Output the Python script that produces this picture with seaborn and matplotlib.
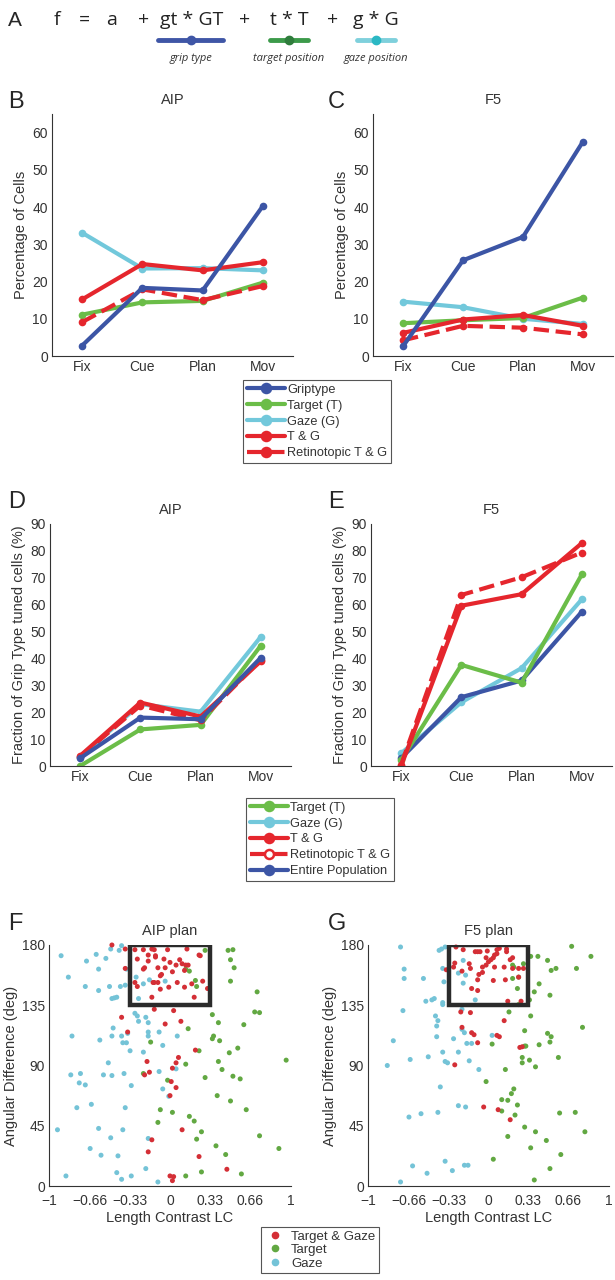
import numpy as np
import pandas as pd
import seaborn as sns
import matplotlib.pyplot as plt
from matplotlib.lines import Line2D
from matplotlib.patches import Rectangle

W, H = 615, 1280

# ---------------- data ----------------
epochs = ['Fix', 'Cue', 'Plan', 'Mov']

# B: AIP, percentage of cells
aip_grip = [2.8, 18.3, 17.6, 40.3]
aip_target = [11.1, 14.4, 14.8, 19.7]
aip_gaze = [33.1, 23.5, 23.6, 23.0]
aip_tg = [15.2, 24.7, 23.0, 25.2]
aip_retino = [9.1, 17.9, 15.0, 18.8]

# C: F5, percentage of cells
f5_grip = [2.6, 25.7, 32.0, 57.6]
f5_target = [8.8, 9.6, 10.2, 15.7]
f5_gaze = [14.6, 13.1, 10.0, 8.6]
f5_tg = [6.2, 9.8, 11.0, 8.1]
f5_retino = [4.2, 8.1, 7.6, 5.8]

# D: AIP, fraction of grip type tuned cells
aip_frac_target = [0.0, 13.6, 15.3, 44.8]
aip_frac_gaze = [3.4, 23.0, 20.2, 48.1]
aip_frac_tg = [3.8, 23.6, 18.4, 39.0]
aip_frac_retino = [3.5, 22.5, 17.0, 39.5]
aip_frac_all = [2.9, 18.0, 17.4, 40.3]

# E: F5, fraction of grip type tuned cells
f5_frac_target = [2.2, 37.6, 31.0, 71.3]
f5_frac_gaze = [4.7, 23.7, 36.4, 62.0]
f5_frac_tg = [0.0, 59.6, 63.9, 82.9]
f5_frac_retino = [0.5, 63.6, 70.2, 79.4]
f5_frac_all = [2.9, 25.6, 31.8, 57.4]

# F: AIP plan scatter (length contrast, angular difference)
aip_gaze_lc = [-0.90, -0.61, -0.69, -0.53, -0.49, -0.42, -0.40, -0.59, -0.84, -0.70, -0.59, -0.50,
               -0.41, -0.37, -0.36, -0.28, -0.17, -0.22, -0.04, -0.48, -0.46, -0.44, -0.26, -0.29,
               -0.27, -0.20, -0.26, -0.18, -0.47, -0.48, -0.40, -0.35, -0.39, -0.36, -0.81, -0.58,
               -0.18, -0.18, -0.09, 0.06, -0.06, -0.33, -0.22, -0.51, -0.82, -0.74, -0.55, -0.48,
               -0.38, -0.75, -0.70, -0.32, -0.09, 0.05, -0.06, -0.01, -0.65, -0.77, -0.37, -0.93,
               -0.59, -0.39, -0.49, -0.18, -0.66, -0.57, -0.43, -0.20, -0.44, -0.86, -0.32, -0.40,
               -0.10]
aip_gaze_ang = [172, 173, 168, 170, 177, 176, 179.5, 162, 156, 149, 146, 149,
                149, 150, 162, 156, 154, 151, 153, 140, 140.5, 141, 140, 129,
                127, 126, 123, 122, 118, 112, 112, 114, 107, 107, 112, 109,
                115, 112, 115, 112, 105, 101, 100, 92, 83, 84, 83, 82.5,
                84, 77, 75.5, 75, 85.5, 87.5, 72.5, 67, 61, 58.5, 58.5, 42,
                43, 42, 36, 35.5, 28, 23, 22.5, 13, 10, 7.5, 7.5, 5,
                3]
aip_target_lc = [0.29, 0.48, 0.52, 0.50, 0.53, 0.13, 0.16, 0.21, 0.50, 0.22, 0.72, 0.35,
                 0.70, 0.74, 0.40, 0.61, 0.15, 0.36, 0.35, 0.41, -0.16, 0.24, 0.49, 0.56,
                 0.40, 0.96, 0.13, 0.43, 0.52, 0.58, 0.29, -0.22, -0.02, 0.39, 0.50, -0.08,
                 0.02, 0.63, 0.16, 0.20, -0.10, 0.26, 0.22, 0.74, 0.38, 0.90, 0.46, 0.26,
                 0.59, 0.13]
aip_target_ang = [176, 176, 176.5, 169, 163, 162, 160.5, 153.5, 153, 149, 145, 128,
                  130, 129.5, 122, 120.5, 117.5, 112, 110, 108.5, 107.5, 101, 99.5, 103,
                  93, 94, 91, 87, 82, 80, 81, 84, 79, 67.5, 63.5, 57,
                  55, 57, 52, 48.5, 47.5, 40.5, 35, 37.5, 30, 28, 23.5, 10.5,
                  9, 7.5]
aip_tg_lc = [-0.48, -0.37, -0.29, -0.22, -0.15, -0.13, -0.02, 0.14, -0.18, -0.12, -0.12, 0.24,
             0.25, -0.37, -0.27, -0.18, -0.05, 0.00, 0.08, 0.10, 0.05, 0.13, 0.15, -0.21,
             -0.22, -0.10, -0.04, 0.02, 0.12, -0.08, -0.07, -0.14, -0.13, -0.10, -0.29, -0.27,
             0.06, 0.18, 0.27, 0.31, -0.08, -0.01, 0.12, 0.20, -0.15, -0.13, -0.40, 0.03,
             -0.04, 0.09, -0.35, 0.21, 0.07, 0.05, -0.19, -0.17, -0.21, 0.02, 0.01, 0.05,
             0.00, 0.10, -0.15, -0.18, 0.24, 0.47, 0.00, 0.03, 0.02]
aip_tg_ang = [180, 177, 176.5, 176.5, 177, 176.5, 176.5, 177, 172.5, 171, 172, 172.5,
              172, 162.5, 169.5, 168, 169.5, 167, 169, 166, 165, 165, 165, 163,
              162, 163, 163, 160, 161, 157, 158, 152, 152, 152, 152, 149,
              152, 151, 153, 147.5, 147, 148.5, 148.5, 141, 141, 132, 126, 131,
              121, 123, 115, 101.5, 96, 92, 93, 85, 83, 88, 78, 73.5,
              67.5, 42, 34.5, 25.5, 22, 12.5, 7.5, 7, 4]

# G: F5 plan scatter
f5_gaze_lc = [-0.73, -0.41, -0.39, -0.36, -0.70, -0.70, -0.54, -0.38, -0.37, -0.21, -0.25, -0.21,
              -0.19, -0.71, -0.52, -0.47, -0.45, -0.38, -0.38, -0.22, -0.11, -0.44, -0.42, -0.43,
              -0.22, -0.20, -0.18, -0.14, -0.43, -0.29, 0.03, -0.79, -0.84, -0.65, -0.50, -0.38,
              -0.36, -0.34, -0.25, -0.16, -0.08, -0.40, -0.66, -0.56, -0.42, -0.25, -0.19, -0.63,
              -0.51, -0.36, -0.30, -0.20, -0.17, -0.73]
f5_gaze_ang = [178.5, 176, 177, 178.5, 162, 155, 155, 162.5, 152.5, 168.5, 159, 151.5,
               157.5, 131, 138, 139, 140, 135.5, 137, 132, 139, 127, 123.5, 119.5,
               117, 114.5, 106.5, 106.5, 111.5, 110, 112.5, 108.5, 90, 94.5, 96.5, 100,
               93, 92, 100, 93.5, 87, 74, 51.5, 54, 55, 60, 59, 15,
               9.5, 18.5, 11.5, 15.5, 15.5, 3]
f5_target_lc = [0.69, 0.85, 0.35, 0.41, 0.49, 0.56, 0.52, 0.73, 0.20, 0.29, 0.21, 0.25,
                0.20, 0.42, 0.24, 0.38, 0.51, 0.34, 0.25, 0.17, 0.35, 0.78, 0.30, 0.49,
                0.52, 0.03, 0.42, 0.51, 0.30, 0.31, 0.28, 0.28, 0.34, 0.39, 0.58, 0.14,
                -0.02, 0.21, 0.19, 0.11, 0.16, 0.24, 0.11, 0.22, 0.59, 0.72, 0.30, 0.39,
                0.80, 0.16, 0.48, 0.35, 0.60, 0.04, 0.51, 0.38]
f5_target_ang = [179, 171.5, 171.5, 171.5, 168.5, 162.5, 161, 162.5, 165, 166, 163.5, 156,
                 155, 151, 147.5, 145, 142.5, 139, 135.5, 130, 127, 118.5, 116, 114,
                 111.5, 106, 105.5, 107.5, 104.5, 104.5, 96, 92, 94, 89, 96, 87,
                 78, 72.5, 69, 64.5, 64, 60.5, 56, 53, 54.5, 55, 44, 40.5,
                 40.5, 37, 34, 28.5, 23.5, 20, 13, 4.5]
f5_tg_lc = [-0.27, -0.21, -0.11, -0.09, -0.07, -0.01, 0.07, 0.09, 0.15, 0.15, 0.07, 0.05,
            0.04, -0.02, 0.02, 0.00, 0.18, 0.20, -0.29, -0.35, -0.28, -0.16, -0.15, -0.05,
            -0.02, 0.05, 0.13, 0.20, 0.25, 0.29, -0.08, -0.05, -0.22, -0.09, 0.04, 0.14,
            0.25, -0.14, -0.09, 0.16, 0.27, -0.23, -0.15, 0.13, -0.22, -0.14, -0.12, -0.09,
            0.07, 0.09, 0.26, 0.28, -0.28, -0.04, 0.08, 0.18]
f5_tg_ang = [178.5, 176.5, 175, 175, 175, 175.5, 176.5, 177.5, 177, 175, 173.5, 172.5,
             170.5, 170.5, 169, 167.5, 169, 170.5, 163.5, 161.5, 166.5, 166, 162.5, 163.5,
             165, 163.5, 163.5, 162.5, 162.5, 162.5, 158, 159.5, 160.5, 154, 153.5, 154,
             156, 147.5, 146, 138, 138, 130, 129.5, 123.5, 118.5, 114.5, 113, 107,
             112.5, 111.5, 103.5, 104, 90.5, 59, 57, 49.5]

# ---------------- style ----------------
sns.set_style('white')
plt.rcParams['font.family'] = ['Liberation Sans', 'DejaVu Sans']
plt.rcParams['axes.linewidth'] = 0.8

BLUE = '#3c55a5'
GREEN = '#6bbd48'
CYAN = '#72c8db'
RED = '#e5262d'
S_RED = '#d42f36'
S_GREEN = '#62a842'
S_CYAN = '#74c3d7'
INK = '#333333'

TICK_FS = 10
LABEL_FS = 10.5

fig = plt.figure(figsize=(W / 100, H / 100), dpi=100)


def px_axes(l, t, r, b):
    return fig.add_axes([l / W, 1 - b / H, (r - l) / W, (b - t) / H])


def style_axes(ax, xpad=3):
    sns.despine(ax=ax)
    for sp in ['left', 'bottom']:
        ax.spines[sp].set_color(INK)
    ax.tick_params(direction='in', length=3, width=0.8, colors=INK, labelsize=TICK_FS, pad=3)
    ax.tick_params(axis='x', pad=xpad)


def line_panel(ax, series, ymax, yticks, ylabel, title):
    x = np.arange(1, 5)
    for vals, color, ls in series:
        df = pd.DataFrame({'epoch': x, 'val': vals})
        sns.lineplot(data=df, x='epoch', y='val', ax=ax, color=color, linestyle=ls,
                     linewidth=3.0, marker='o', markersize=5.5, markeredgewidth=0,
                     markerfacecolor=color, legend=False)
    ax.set_xlim(0.5, 4.5)
    ax.set_ylim(0, ymax)
    ax.set_xticks(x)
    ax.set_xticklabels(epochs)
    ax.set_yticks(yticks)
    ax.set_xlabel('')
    ax.set_ylabel(ylabel, fontsize=LABEL_FS, color=INK, labelpad=3)
    ax.set_title(title, fontsize=LABEL_FS, color=INK, pad=7)
    style_axes(ax)


def scatter_panel(ax, gaze, target, tg, title):
    df = pd.concat([
        pd.DataFrame({'lc': gaze[0], 'ang': gaze[1], 'grp': 'Gaze'}),
        pd.DataFrame({'lc': target[0], 'ang': target[1], 'grp': 'Target'}),
        pd.DataFrame({'lc': tg[0], 'ang': tg[1], 'grp': 'Target & Gaze'}),
    ], ignore_index=True)
    sns.scatterplot(data=df, x='lc', y='ang', hue='grp', ax=ax, s=13, linewidth=0,
                    palette={'Gaze': S_CYAN, 'Target': S_GREEN, 'Target & Gaze': S_RED},
                    legend=False, clip_on=False)
    ax.add_patch(Rectangle((-0.33, 135), 0.66, 45, fill=False, edgecolor='#2b2b2b',
                           linewidth=3.2, zorder=5))
    ax.set_xlim(-1, 1)
    ax.set_ylim(0, 180)
    ax.set_xticks([-1, -0.66, -0.33, 0, 0.33, 0.66, 1])
    ax.set_xticklabels(['\u22121', '\u22120.66', '\u22120.33', '0', '0.33', '0.66', '1'])
    ax.set_yticks([0, 45, 90, 135, 180])
    ax.set_xlabel('Length Contrast LC', fontsize=LABEL_FS, color=INK, labelpad=2)
    ax.set_ylabel('Angular Difference (deg)', fontsize=LABEL_FS, color=INK, labelpad=3)
    ax.set_title(title, fontsize=LABEL_FS, color=INK, pad=7)
    style_axes(ax, xpad=6)


# ---------------- panel A (model equation) ----------------
fig.text(8 / W, 1 - 20 / H, 'A', fontsize=15, va='center', ha='left')
eq_font = dict(fontsize=14, va='center', ha='center', family=['Open Sans', 'DejaVu Sans'],
               color='#222222')
for s, xp in [('f', 57), ('=', 84), ('a', 112), ('+', 144), ('gt * GT', 192), ('+', 245),
              ('t * T', 289), ('+', 333), ('g * G', 376)]:
    fig.text(xp / W, 1 - 20 / H, s, **eq_font)
for (x0, x1, col, dot, lab) in [(158, 223, '#3f56a6', '#3f56a6', 'grip type'),
                                (270, 308, '#3c9a4a', '#2f7d3c', 'target position'),
                                (357, 395, '#7fd0dc', '#2bb8c4', 'gaze position')]:
    xm = (x0 + x1) / 2
    fig.add_artist(Line2D([x0 / W, x1 / W], [1 - 40 / H, 1 - 40 / H], color=col, linewidth=3.5,
                          transform=fig.transFigure))
    fig.add_artist(Line2D([xm / W], [1 - 40 / H], color=dot, marker='o', markersize=6,
                          transform=fig.transFigure))
    fig.text(xm / W, 1 - 58 / H, lab, fontsize=8, style='italic', ha='center', va='center',
             family=['Open Sans', 'DejaVu Sans'], color='#333333')

# ---------------- panels B, C ----------------
axB = px_axes(52, 114, 293, 356)
line_panel(axB, [(aip_gaze, CYAN, '-'), (aip_target, GREEN, '-'), (aip_retino, RED, '--'),
                 (aip_tg, RED, '-'), (aip_grip, BLUE, '-')],
           65, [0, 10, 20, 30, 40, 50, 60], 'Percentage of Cells', 'AIP')
axC = px_axes(373, 114, 613, 356)
line_panel(axC, [(f5_gaze, CYAN, '-'), (f5_target, GREEN, '-'), (f5_retino, RED, '--'),
                 (f5_tg, RED, '-'), (f5_grip, BLUE, '-')],
           65, [0, 10, 20, 30, 40, 50, 60], 'Percentage of Cells', 'F5')

# ---------------- panels D, E ----------------
axD = px_axes(50, 524, 291, 766)
line_panel(axD, [(aip_frac_target, GREEN, '-'), (aip_frac_gaze, CYAN, '-'),
                 (aip_frac_retino, RED, '--'), (aip_frac_tg, RED, '-'), (aip_frac_all, BLUE, '-')],
           90, list(range(0, 91, 10)), 'Fraction of Grip Type tuned cells (%)', 'AIP')
axE = px_axes(371, 524, 612, 766)
line_panel(axE, [(f5_frac_gaze, CYAN, '-'), (f5_frac_all, BLUE, '-'), (f5_frac_target, GREEN, '-'),
                 (f5_frac_retino, RED, '--'), (f5_frac_tg, RED, '-')],
           90, list(range(0, 91, 10)), 'Fraction of Grip Type tuned cells (%)', 'F5')

# ---------------- panels F, G ----------------
axF = px_axes(49, 945, 291, 1186)
scatter_panel(axF, (aip_gaze_lc, aip_gaze_ang), (aip_target_lc, aip_target_ang),
              (aip_tg_lc, aip_tg_ang), 'AIP plan')
axG = px_axes(368, 945, 609, 1186)
scatter_panel(axG, (f5_gaze_lc, f5_gaze_ang), (f5_target_lc, f5_target_ang),
              (f5_tg_lc, f5_tg_ang), 'F5 plan')

# panel letters
for lab, xp, yp in [('B', 8, 102), ('C', 328, 102), ('D', 8, 502), ('E', 328, 502),
                    ('F', 8, 924), ('G', 328, 924)]:
    fig.text(xp / W, 1 - yp / H, lab, fontsize=17, va='center', ha='left')


# ---------------- legends ----------------
def lh(color, ls='-', mfc=None):
    return Line2D([], [], color=color, linestyle=ls, linewidth=3.0, marker='o', markersize=6.5,
                  markerfacecolor=mfc or color, markeredgecolor=color, markeredgewidth=1.8)


leg_kw = dict(fontsize=9.2, frameon=True, fancybox=False, edgecolor='#555555', framealpha=1,
              handlelength=3.0, handletextpad=0.15, labelspacing=0.3, borderpad=0.3,
              borderaxespad=0)

leg1 = fig.legend([lh(BLUE), lh(GREEN), lh(CYAN), lh(RED), lh(RED, '--')],
                  ['Griptype', 'Target (T)', 'Gaze (G)', 'T & G', 'Retinotopic T & G'],
                  loc='upper center', bbox_to_anchor=(317 / W, 1 - 380 / H), **leg_kw)
leg2 = fig.legend([lh(GREEN), lh(CYAN), lh(RED), lh(RED, '--', 'white'), lh(BLUE)],
                  ['Target (T)', 'Gaze (G)', 'T & G', 'Retinotopic T & G', 'Entire Population'],
                  loc='upper center', bbox_to_anchor=(320 / W, 1 - 798 / H), **leg_kw)
dots = [Line2D([], [], linestyle='', marker='o', markersize=4.5, color=c) for c in (S_RED, S_GREEN, S_CYAN)]
leg3 = fig.legend(dots, ['Target & Gaze', 'Target', 'Gaze'], loc='upper center',
                  bbox_to_anchor=(320 / W, 1 - 1227 / H), fontsize=9.5, frameon=True, fancybox=False,
                  edgecolor='#555555', framealpha=1, handlelength=1.5, handletextpad=0.5,
                  labelspacing=0.1, borderpad=0.25, borderaxespad=0)
for lg in (leg1, leg2, leg3):
    lg.get_frame().set_linewidth(0.8)
    for t in lg.get_texts():
        t.set_color(INK)

fig.savefig('out.png', dpi=100)
